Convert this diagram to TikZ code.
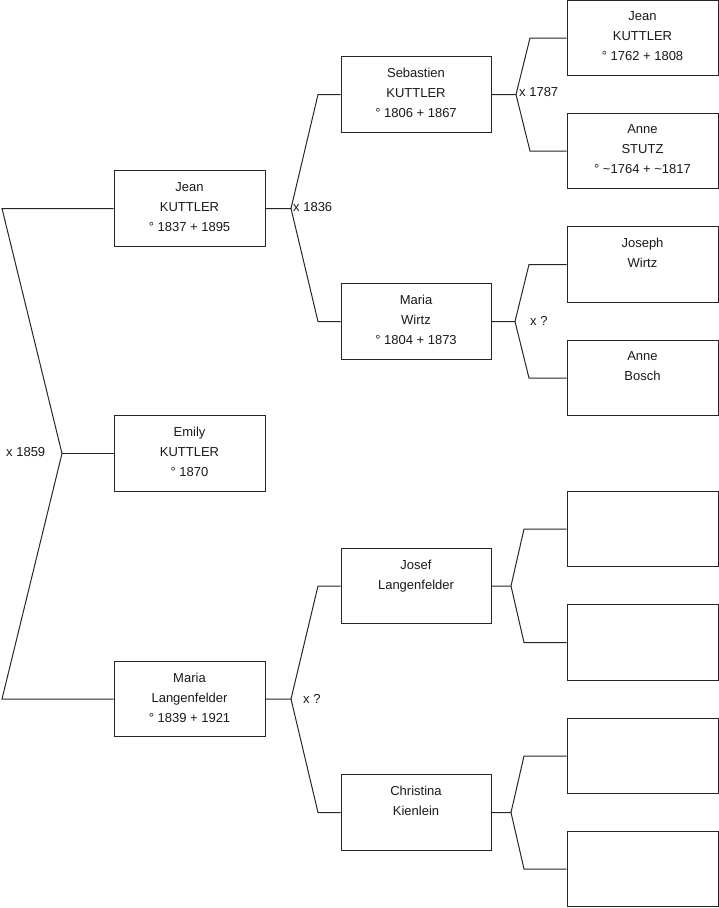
\documentclass[tikz,border=0pt]{standalone}
\usepackage{fontspec}
\setmainfont{Liberation Sans}
\begin{document}
\begin{tikzpicture}[x=1pt,y=-1pt,
  every node/.style={font=\fontsize{13}{20}\selectfont, text=black!90},
  pbox/.style={draw=black!85, line width=1pt, rectangle, minimum width=151pt, minimum height=75.5pt, inner sep=0pt},
  lbl/.style={anchor=north, yshift=-12pt, inner sep=0pt, align=center},
  conn/.style={draw=black!85, line width=1pt},
  mlabel/.style={anchor=west, inner sep=0pt}]
\useasboundingbox (0,0) rectangle (719,908);
% column 1
\node[pbox, label={[lbl]north:Jean\\KUTTLER\\° 1837 + 1895}] (jean) at (189.5,208.5) {};
\node[pbox, label={[lbl]north:Emily\\KUTTLER\\° 1870}] (emily) at (189.5,453.5) {};
\node[pbox, label={[lbl]north:Maria\\Langenfelder\\° 1839 + 1921}] (marial) at (189.5,699) {};
% column 2
\node[pbox, minimum width=150pt, label={[lbl]north:Sebastien\\KUTTLER\\° 1806 + 1867}] (seb) at (416,94.5) {};
\node[pbox, minimum width=150pt, label={[lbl]north:Maria\\Wirtz\\° 1804 + 1873}] (mariaw) at (416,321.5) {};
\node[pbox, minimum width=150pt, label={[lbl]north:Josef\\Langenfelder}] (josef) at (416,586) {};
\node[pbox, minimum width=150pt, label={[lbl]north:Christina\\Kienlein}] (christ) at (416,812.5) {};
% column 3
\node[pbox, label={[lbl]north:Jean\\KUTTLER\\° 1762 + 1808}] (jeank) at (642.5,38) {};
\node[pbox, label={[lbl]north:Anne\\STUTZ\\° \textasciitilde1764 + \textasciitilde1817}] (annes) at (642.5,151) {};
\node[pbox, label={[lbl]north:Joseph\\Wirtz}] (joseph) at (642.5,264.5) {};
\node[pbox, label={[lbl]north:Anne\\Bosch}] (anneb) at (642.5,378) {};
\node[pbox] (e1) at (642.5,529) {};
\node[pbox] (e2) at (642.5,642.5) {};
\node[pbox] (e3) at (642.5,756) {};
\node[pbox] (e4) at (642.5,869) {};
% fork points
\coordinate (a0) at (62,453.5);
\coordinate (a1) at (291,208.5);
\coordinate (a2) at (516,94.5);
\coordinate (a3) at (515,321.5);
\coordinate (a4) at (291,699);
\coordinate (a5) at (511,586);
\coordinate (a6) at (511,812.5);
% connectors
\draw[conn] (jean.west) -- (2,208.5) -- (a0) -- (2,699) -- (marial.west);
\draw[conn] (a0) -- (emily.west);
\draw[conn] (jean.east) -- (a1) -- (318,94.5) -- (seb.west);
\draw[conn] (a1) -- (318,321.5) -- (mariaw.west);
\draw[conn] (seb.east) -- (a2) -- (530,38) -- (jeank.west);
\draw[conn] (a2) -- (530,151) -- (annes.west);
\draw[conn] (mariaw.east) -- (a3) -- (529,264.5) -- (joseph.west);
\draw[conn] (a3) -- (529,378) -- (anneb.west);
\draw[conn] (marial.east) -- (a4) -- (318,586) -- (josef.west);
\draw[conn] (a4) -- (318,812.5) -- (christ.west);
\draw[conn] (josef.east) -- (a5) -- (524,529) -- (e1.west);
\draw[conn] (a5) -- (524,642.5) -- (e2.west);
\draw[conn] (christ.east) -- (a6) -- (524,756) -- (e3.west);
\draw[conn] (a6) -- (524,869) -- (e4.west);
% marriage labels
\node[mlabel] (m0) at (6,452.5) {x 1859};
\node[mlabel] (m1) at (293,207.5) {x 1836};
\node[mlabel] (m2) at (519,92) {x 1787};
\node[mlabel] (m3) at (530,320.5) {x ?};
\node[mlabel] (m4) at (303,698.5) {x ?};
\end{tikzpicture}
\end{document}
